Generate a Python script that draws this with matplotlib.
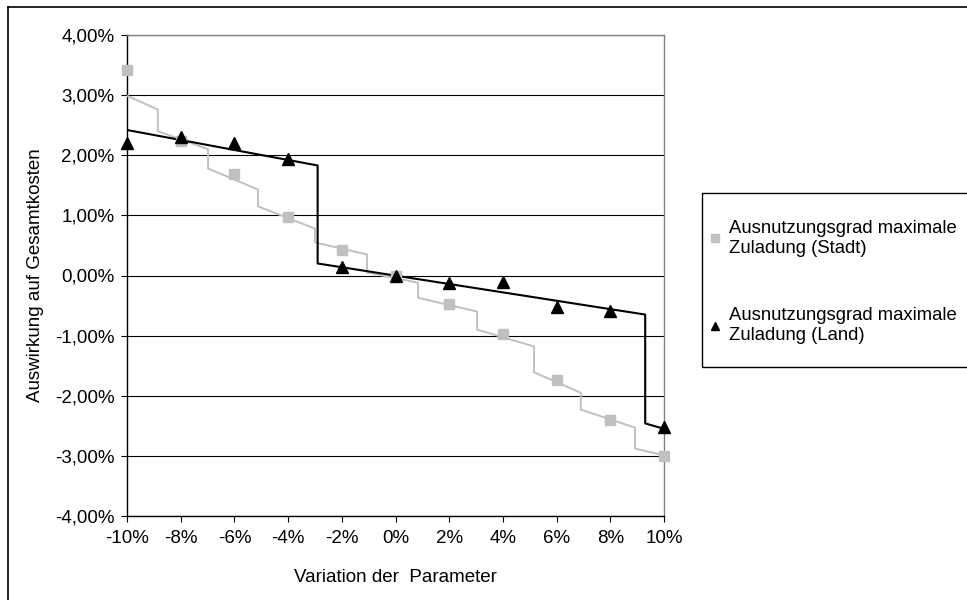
import matplotlib
matplotlib.use("Agg")
import matplotlib.pyplot as plt
from matplotlib.lines import Line2D
from matplotlib.patches import Rectangle
from matplotlib.ticker import FuncFormatter, MultipleLocator

plt.rcParams['font.family'] = ['Liberation Sans', 'DejaVu Sans']

# ------------------------------------------------------------
# Data
# ------------------------------------------------------------
variation = [-10, -8, -6, -4, -2, 0, 2, 4, 6, 8, 10]
stadt = [3.41, 2.23, 1.69, 0.97, 0.43, 0.0, -0.47, -0.97, -1.74, -2.40, -3.00]
land = [2.21, 2.31, 2.21, 1.93, 0.14, 0.0, -0.12, -0.10, -0.53, -0.59, -2.52]

# stepped trend line (Stadt)
stadt_fit_x = [-10, -8.85, -8.85, -6.98, -6.98, -5.12, -5.12, -3.0, -3.0, -1.06, -1.06,
               0.84, 0.84, 3.04, 3.04, 5.16, 5.16, 6.9, 6.9, 8.92, 8.92, 10]
stadt_fit_y = [2.99, 2.76, 2.40, 2.10, 1.78, 1.43, 1.15, 0.78, 0.55, 0.35, 0.05,
               -0.12, -0.37, -0.60, -0.90, -1.18, -1.61, -1.95, -2.23, -2.53, -2.88, -2.99]

# piecewise trend line (Land)
land_fit_x = [-10, -2.9, -2.9, 9.3, 9.3, 10]
land_fit_y = [2.42, 1.83, 0.20, -0.65, -2.46, -2.55]

labels = ["Ausnutzungsgrad maximale\nZuladung (Stadt)",
          "Ausnutzungsgrad maximale\nZuladung (Land)"]

gray = "#c0c0c0"
fs = 13.5

# ------------------------------------------------------------
# Figure
# ------------------------------------------------------------
fig = plt.figure(figsize=(9.67, 6.0), dpi=100)
ax = fig.add_axes([127 / 967, 1 - 516 / 600, (664 - 127) / 967, (516 - 35) / 600])

ax.plot(stadt_fit_x, stadt_fit_y, color=gray, lw=1.4, zorder=3)
ax.plot(land_fit_x, land_fit_y, color="black", lw=1.5, zorder=4)
ax.plot(variation, stadt, ls="none", marker="s", ms=7.5, color=gray,
        clip_on=False, zorder=5, label=labels[0])
ax.plot(variation, land, ls="none", marker="^", ms=8, color="black",
        clip_on=False, zorder=6, label=labels[1])

ax.set_xlim(-10, 10)
ax.set_ylim(-4, 4)
ax.xaxis.set_major_locator(MultipleLocator(2))
ax.yaxis.set_major_locator(MultipleLocator(1))
ax.xaxis.set_major_formatter(FuncFormatter(lambda v, p: f"{v:.0f}%"))
ax.yaxis.set_major_formatter(FuncFormatter(lambda v, p: f"{v:.2f}%".replace(".", ",")))
ax.tick_params(labelsize=fs, length=4, width=0.8, color="black")
ax.tick_params(axis="x", pad=6)
ax.tick_params(axis="y", pad=5)
ax.yaxis.grid(True, color="black", lw=0.8)
ax.set_axisbelow(True)

for s in ["top", "right"]:
    ax.spines[s].set_color("#808080")
    ax.spines[s].set_linewidth(1.0)
for s in ["left", "bottom"]:
    ax.spines[s].set_color("black")
    ax.spines[s].set_linewidth(1.0)

ax.set_xlabel("Variation der  Parameter", fontsize=fs, labelpad=16)
ax.set_ylabel("Auswirkung auf Gesamtkosten", fontsize=fs, labelpad=8)

# legend: frameless entries + a separate box like the reference
leg = fig.legend(loc="upper left", bbox_to_anchor=(710 / 967, 1 - 220 / 600),
                 frameon=False, fontsize=13.3, handlelength=0.5, handletextpad=0.55,
                 labelspacing=2.75, borderpad=0, borderaxespad=0, markerscale=0.75)
fig.add_artist(Rectangle((702 / 967, 1 - 367 / 600), 0.5, (367 - 193) / 600,
                         transform=fig.transFigure, fill=False, edgecolor="black", lw=1.0))

# outer chart border (only top and left visible in the crop)
fig.add_artist(Line2D([8 / 967, 8 / 967], [0, 1 - 7 / 600], color="black", lw=1.2))
fig.add_artist(Line2D([8 / 967, 1], [1 - 7 / 600, 1 - 7 / 600], color="black", lw=1.2))

fig.savefig("out.png", dpi=100)
